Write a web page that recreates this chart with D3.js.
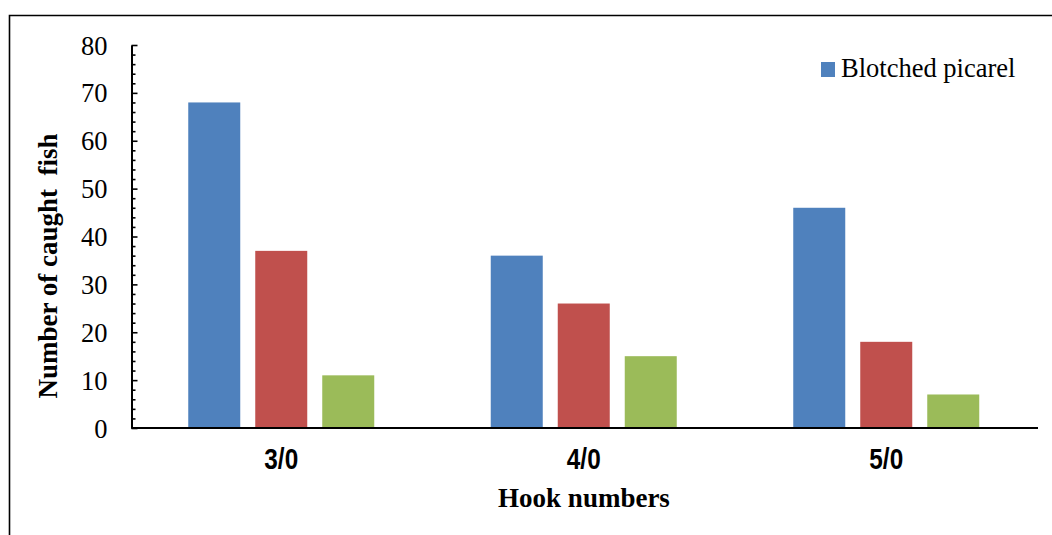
<!DOCTYPE html>
<html><head><meta charset="utf-8">
<script src="https://cdn.jsdelivr.net/npm/d3@7"></script>
<style>html,body{margin:0;padding:0;background:#fff;}svg{display:block;}</style>
</head><body>
<svg id="chart" width="1052" height="535"></svg>
<script>
const categories = ["3/0", "4/0", "5/0"];
const seriesNames = ["Blotched picarel", "Series 2", "Series 3"];
const seriesA = [68, 36, 46];
const seriesB = [37, 26, 18];
const seriesC = [11, 15, 7];
const yTicks = [0, 10, 20, 30, 40, 50, 60, 70, 80];
const colors = ["#4F81BD", "#C0504D", "#9BBB59"];

const svg = d3.select("#chart");
const serif = "'Liberation Serif','Times New Roman',serif";
const sans = "'Liberation Sans',Arial,sans-serif";

// outer frame (top and left edges visible)
svg.append("path").attr("d", "M9.5,536 L9.5,15.5 L1053,15.5")
  .attr("fill", "none").attr("stroke", "#000").attr("stroke-width", 1.6);

const xAxisPos = 131.5, yTop = 45, yBot = 428;
const x = d3.scaleBand().domain(categories).range([130, 1037.5]);
const y = d3.scaleLinear().domain([0, 80]).range([yBot, yTop]);
const barW = 52, gap = 15;
const inner = d3.scaleBand().domain([0, 1, 2])
  .range([0, 3 * barW + 2 * gap]).paddingInner(gap / (barW + gap)).paddingOuter(0);

const data = categories.map((c, i) => ({ c, vals: [seriesA[i], seriesB[i], seriesC[i]] }));
const g = svg.append("g");
data.forEach(d => {
  const start = x(d.c) + (x.bandwidth() - (3 * barW + 2 * gap)) / 2;
  d.vals.forEach((v, k) => {
    g.append("rect")
      .attr("x", start + inner(k))
      .attr("width", inner.bandwidth())
      .attr("y", y(v))
      .attr("height", y(0) - y(v))
      .attr("fill", colors[k]);
  });
});

// X axis
const xAx = svg.append("g").attr("transform", `translate(0,${yBot})`)
  .call(d3.axisBottom(x).tickSize(0).tickSizeOuter(0));
xAx.select(".domain").attr("stroke", "#000").attr("stroke-width", 2)
  .attr("d", `M${xAxisPos},0H1038`);
xAx.selectAll(".tick text").each(function () {
  const t = d3.select(this);
  t.attr("y", null).attr("dy", null)
    .attr("transform", "translate(0,41) scale(0.84,1)")
    .attr("font-family", sans).attr("font-weight", "bold")
    .attr("font-size", 29).attr("fill", "#000");
});

// Y axis minor ticks
const minor = d3.range(0, 81, 2).filter(v => v % 10 !== 0);
svg.append("g").attr("transform", `translate(${xAxisPos},0)`)
  .call(d3.axisRight(y).tickValues(minor).tickSize(4).tickFormat(""))
  .call(a => a.select(".domain").remove())
  .selectAll("line").attr("stroke", "#000").attr("stroke-width", 1.6);
// Y axis major
const yAx = svg.append("g").attr("transform", `translate(${xAxisPos},0)`)
  .call(d3.axisRight(y).tickValues(yTicks).tickSize(6).tickSizeOuter(0));
yAx.select(".domain").attr("stroke", "#000").attr("stroke-width", 2);
yAx.selectAll("line").attr("stroke", "#000").attr("stroke-width", 1.6);
yAx.selectAll("text").attr("x", -24).attr("text-anchor", "end")
  .attr("font-family", serif).attr("font-size", 26.5).attr("fill", "#000").attr("dy", "0.34em");

// Axis titles
svg.append("text").attr("transform", "translate(57,266) rotate(-90)")
  .attr("text-anchor", "middle").attr("font-family", serif).attr("font-weight", "bold")
  .attr("font-size", 27).attr("xml:space", "preserve").style("white-space", "pre")
  .text("Number of caught  fish");
svg.append("text").attr("x", 584).attr("y", 507)
  .attr("text-anchor", "middle").attr("font-family", serif).attr("font-weight", "bold")
  .attr("font-size", 27).text("Hook numbers");

// Legend
const lg = svg.append("g").attr("transform", "translate(821,62)");
lg.append("rect").attr("width", 14).attr("height", 15).attr("fill", colors[0]);
lg.append("text").attr("x", 20).attr("y", 15).attr("font-family", serif)
  .attr("font-size", 26.5).attr("fill", "#000").text(seriesNames[0]);
</script>
</body></html>
